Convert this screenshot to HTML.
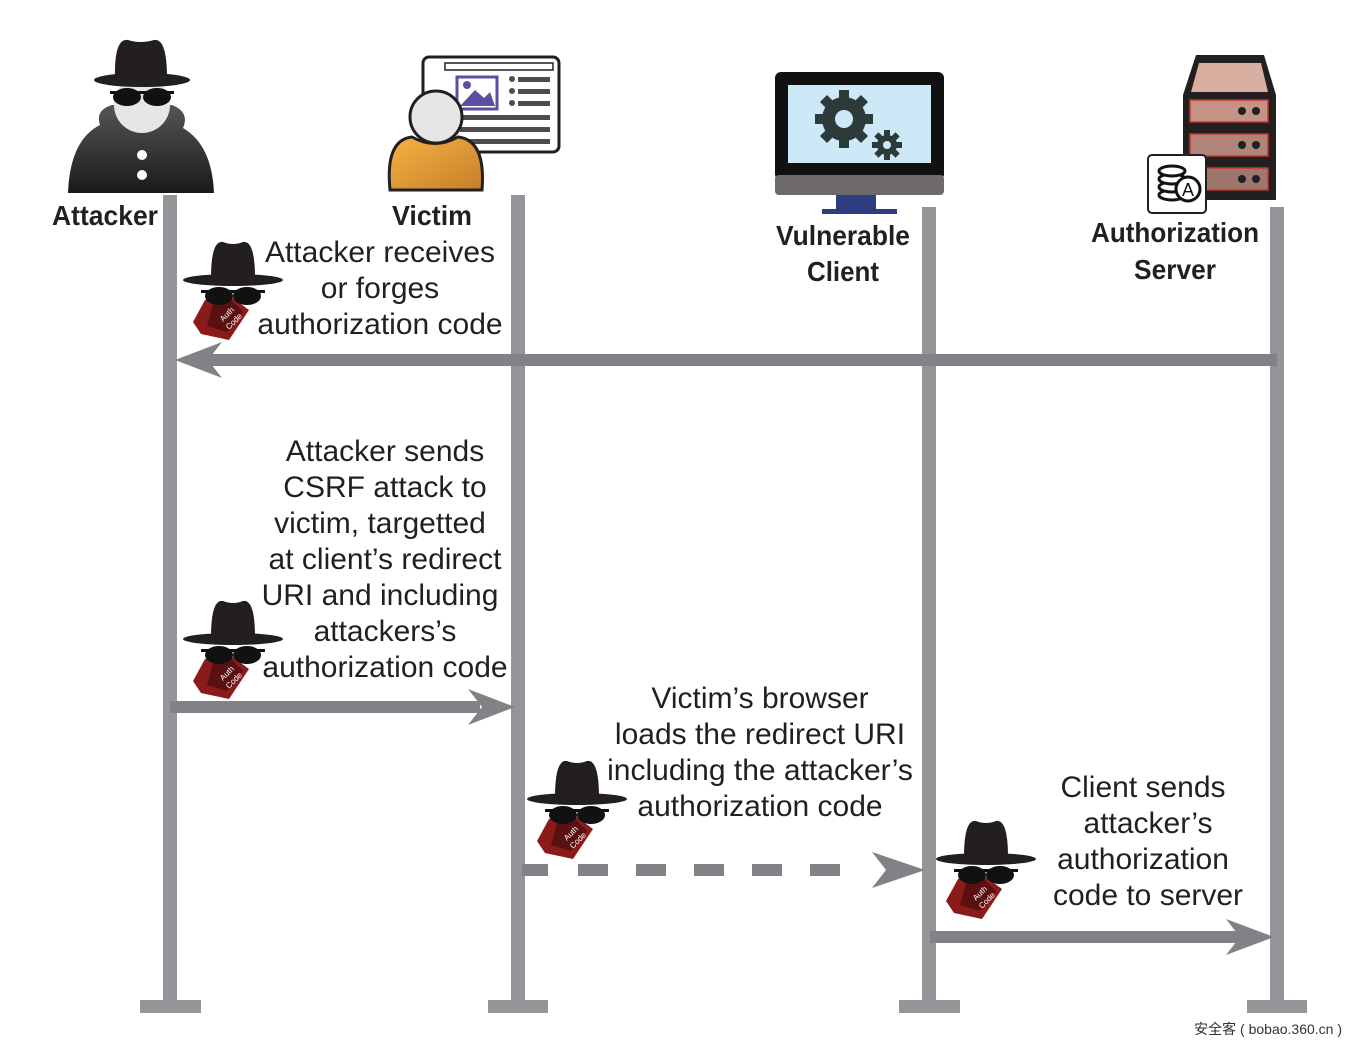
<!DOCTYPE html>
<html><head><meta charset="utf-8"><style>
html,body{margin:0;padding:0;background:#fff;}
svg{display:block;}
.t{font-family:"Liberation Sans",sans-serif;font-size:30px;fill:#231f20;text-anchor:middle;}
.l{font-family:"Liberation Sans",sans-serif;font-size:28px;font-weight:bold;fill:#231f20;text-anchor:middle;}
</style></head><body>
<svg width="1357" height="1047" viewBox="0 0 1357 1047" xmlns="http://www.w3.org/2000/svg">
<defs>
<linearGradient id="coat" x1="0" y1="0" x2="0" y2="1"><stop offset="0" stop-color="#555"/><stop offset="1" stop-color="#1a1a1a"/></linearGradient>
<linearGradient id="org" x1="0" y1="0" x2="1" y2="1"><stop offset="0" stop-color="#f5b342"/><stop offset="1" stop-color="#c57f2a"/></linearGradient>
<g id="hat">
<polygon points="22,62 44,56 66,72 46,102 18,96 10,84" fill="#8b1a1a"/>
<polygon points="30,66 48,62 60,74 44,94 24,88" fill="#5a1010"/>
<text x="40" y="84" font-family="Liberation Sans,sans-serif" font-size="8" fill="#fff" transform="rotate(-45 40 84)">Auth</text>
<text x="46" y="92" font-family="Liberation Sans,sans-serif" font-size="8" fill="#fff" transform="rotate(-45 46 92)">Code</text>
<path d="M28,40 Q28,2 40,4 Q50,8 60,4 Q72,2 72,40 Z" fill="#231f20"/>
<ellipse cx="50" cy="42" rx="50" ry="6" fill="#231f20"/>
<ellipse cx="36" cy="58" rx="14" ry="9" fill="#111"/>
<ellipse cx="64" cy="58" rx="14" ry="9" fill="#111"/>
<rect x="18" y="52" width="64" height="3" fill="#111"/>
</g>
</defs>

<!-- lifelines -->
<g fill="#939598">
<rect x="163" y="195" width="14" height="810"/>
<rect x="140" y="1000" width="61" height="13"/>
<rect x="511" y="195" width="14" height="810"/>
<rect x="488" y="1000" width="60" height="13"/>
<rect x="922" y="207" width="14" height="798"/>
<rect x="899" y="1000" width="61" height="13"/>
<rect x="1270" y="207" width="14" height="798"/>
<rect x="1247" y="1000" width="60" height="13"/>
</g>

<!-- arrows -->
<g fill="#808285">
<rect x="205" y="354" width="1072" height="12"/>
<polygon points="175,360 222,342 208,360 222,378"/>
<rect x="170" y="701" width="310" height="12"/>
<polygon points="515,707 468,689 482,707 468,725"/>
<g><rect x="522" y="864" width="26" height="12"/><rect x="578" y="864" width="30" height="12"/><rect x="636" y="864" width="30" height="12"/><rect x="694" y="864" width="30" height="12"/><rect x="752" y="864" width="30" height="12"/><rect x="810" y="864" width="30" height="12"/></g>
<polygon points="925,870 872,852 886,870 872,888"/>
<rect x="930" y="931" width="312" height="12"/>
<polygon points="1274,937 1226,919 1240,937 1226,955"/>
</g>

<!-- attacker -->
<g>
<path d="M68,193 Q70,140 100,125 Q95,110 112,105 L172,105 Q190,112 183,128 Q212,145 214,193 Z" fill="url(#coat)"/>
<ellipse cx="142" cy="105" rx="28" ry="28" fill="#e6e6e7"/>
<circle cx="142" cy="155" r="5" fill="#fff"/><circle cx="142" cy="175" r="5" fill="#fff"/>
<path d="M115,78 Q114,38 128,40 Q140,44 154,40 Q167,38 167,78 Z" fill="#231f20"/>
<ellipse cx="142" cy="80" rx="48" ry="7" fill="#231f20"/>
<ellipse cx="127" cy="97" rx="14" ry="9" fill="#111"/><ellipse cx="157" cy="97" rx="14" ry="9" fill="#111"/>
<rect x="110" y="91" width="64" height="3" fill="#111"/>
</g>
<text class="l" x="105" y="225" textLength="106" lengthAdjust="spacingAndGlyphs">Attacker</text>

<!-- victim -->
<g>
<rect x="423" y="57" width="136" height="95" rx="6" fill="#fff" stroke="#231f20" stroke-width="3"/>
<rect x="445" y="63" width="108" height="7" fill="#fff" stroke="#231f20" stroke-width="1.5"/>
<rect x="457" y="77" width="40" height="32" fill="#fff" stroke="#5b4fa0" stroke-width="3"/>
<polygon points="460,106 475,90 484,98 490,92 495,106" fill="#5b4fa0"/>
<circle cx="467" cy="85" r="4" fill="#5b4fa0"/>
<g fill="#4d4d4f"><rect x="518" y="77" width="32" height="5"/><rect x="518" y="89" width="32" height="5"/><rect x="518" y="101" width="32" height="5"/><rect x="460" y="115" width="90" height="5"/><rect x="460" y="127" width="90" height="5"/><rect x="460" y="139" width="90" height="5"/>
<circle cx="512" cy="79" r="3"/><circle cx="512" cy="91" r="3"/><circle cx="512" cy="103" r="3"/></g>
<path d="M390,190 Q385,140 412,137 Q435,150 458,137 Q486,140 482,190 Z" fill="url(#org)" stroke="#231f20" stroke-width="3"/>
<circle cx="436" cy="117" r="26" fill="#e6e6e7" stroke="#231f20" stroke-width="3"/>
</g>
<text class="l" x="432" y="225" textLength="80" lengthAdjust="spacingAndGlyphs">Victim</text>

<!-- client -->
<g>
<rect x="775" y="72" width="169" height="108" rx="6" fill="#111"/>
<rect x="788" y="85" width="143" height="78" fill="#cde8f7"/>
<rect x="775" y="175" width="169" height="20" rx="4" fill="#6d6a69"/>
<rect x="836" y="195" width="40" height="14" fill="#2e3d80"/>
<rect x="822" y="209" width="75" height="5" fill="#2e3d80"/>
<circle cx="844" cy="119" r="22" fill="#2d3a3a"/>
<g fill="#2d3a3a">
<rect x="839" y="90" width="10" height="58"/><rect x="815" y="114" width="58" height="10"/>
<rect x="839" y="90" width="10" height="58" transform="rotate(45 844 119)"/><rect x="839" y="90" width="10" height="58" transform="rotate(-45 844 119)"/>
</g>
<circle cx="844" cy="119" r="9" fill="#cde8f7"/>
<circle cx="887" cy="145" r="10" fill="#2d3a3a"/>
<g fill="#2d3a3a"><rect x="884" y="130" width="6" height="30"/><rect x="872" y="142" width="30" height="6"/><rect x="884" y="130" width="6" height="30" transform="rotate(45 887 145)"/><rect x="884" y="130" width="6" height="30" transform="rotate(-45 887 145)"/></g>
<circle cx="887" cy="145" r="4" fill="#cde8f7"/>
</g>
<text class="l" x="843" y="245" textLength="134" lengthAdjust="spacingAndGlyphs">Vulnerable</text>
<text class="l" x="843" y="281" textLength="72" lengthAdjust="spacingAndGlyphs">Client</text>

<!-- server -->
<g>
<path d="M1183,200 L1183,95 L1196,55 L1264,55 L1276,95 L1276,200 Z" fill="#231f20" rx="8"/>
<polygon points="1199,63 1261,63 1268,92 1191,92" fill="#d7aea0"/>
<rect x="1190" y="100" width="78" height="22" fill="#c49386" stroke="#c0392b" stroke-width="1.5"/>
<rect x="1190" y="134" width="78" height="22" fill="#b08478" stroke="#c0392b" stroke-width="1.5"/>
<rect x="1190" y="168" width="78" height="22" fill="#9e766b" stroke="#c0392b" stroke-width="1.5"/>
<g fill="#231f20"><circle cx="1242" cy="111" r="4"/><circle cx="1256" cy="111" r="4"/><circle cx="1242" cy="145" r="4"/><circle cx="1256" cy="145" r="4"/><circle cx="1242" cy="179" r="4"/><circle cx="1256" cy="179" r="4"/></g>
<rect x="1148" y="155" width="58" height="58" rx="4" fill="#fff" stroke="#231f20" stroke-width="2"/>
<g fill="#fff" stroke="#111" stroke-width="3"><ellipse cx="1172" cy="195" rx="13" ry="5"/><ellipse cx="1172" cy="187" rx="13" ry="5"/><ellipse cx="1172" cy="179" rx="13" ry="5"/><ellipse cx="1172" cy="171" rx="13" ry="5"/></g>
<circle cx="1188" cy="189" r="12" fill="#fff" stroke="#111" stroke-width="3"/>
<text x="1188" y="196" font-family="Liberation Sans,sans-serif" font-size="18" fill="#111" text-anchor="middle">A</text>
</g>
<text class="l" x="1175" y="242" textLength="168" lengthAdjust="spacingAndGlyphs">Authorization</text>
<text class="l" x="1175" y="279" textLength="82" lengthAdjust="spacingAndGlyphs">Server</text>

<!-- hats -->
<use href="#hat" x="183" y="238"/>
<use href="#hat" x="183" y="597"/>
<use href="#hat" x="527" y="757"/>
<use href="#hat" x="936" y="817"/>

<!-- texts -->
<text class="t" x="380" y="262">Attacker receives</text>
<text class="t" x="380" y="298">or forges</text>
<text class="t" x="380" y="334">authorization code</text>

<text class="t" x="385" y="461">Attacker sends</text>
<text class="t" x="385" y="497">CSRF attack to</text>
<text class="t" x="380" y="533">victim, targetted</text>
<text class="t" x="385" y="569">at client’s redirect</text>
<text class="t" x="380" y="605">URI and including</text>
<text class="t" x="385" y="641">attackers’s</text>
<text class="t" x="385" y="677">authorization code</text>

<text class="t" x="760" y="708">Victim’s browser</text>
<text class="t" x="760" y="744">loads the redirect URI</text>
<text class="t" x="760" y="780">including the attacker’s</text>
<text class="t" x="760" y="816">authorization code</text>

<text class="t" x="1143" y="797">Client sends</text>
<text class="t" x="1148" y="833">attacker’s</text>
<text class="t" x="1143" y="869">authorization</text>
<text class="t" x="1148" y="905">code to server</text>

<text x="1342" y="1034" font-family="Liberation Sans,'Noto Sans CJK SC',sans-serif" font-size="14" fill="#333" text-anchor="end">安全客 ( bobao.360.cn )</text>
</svg>
</body></html>
